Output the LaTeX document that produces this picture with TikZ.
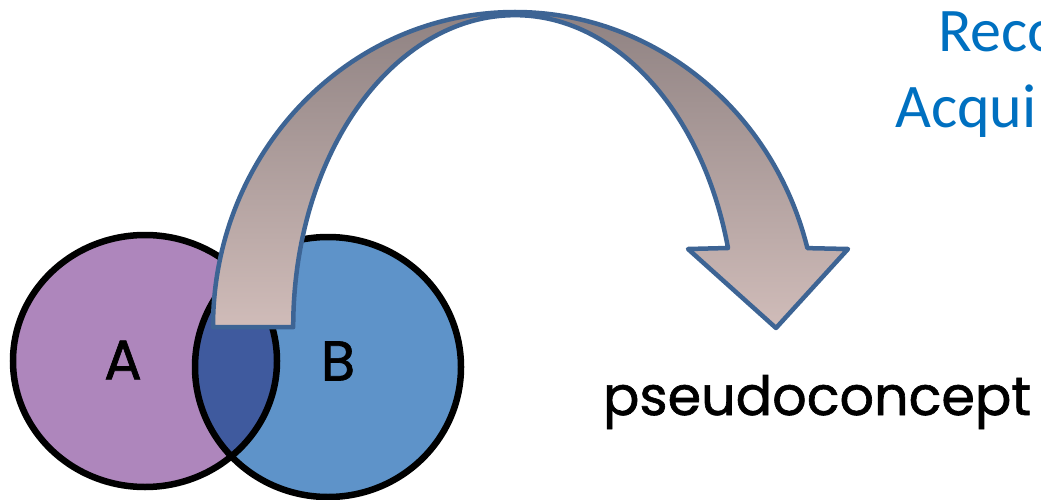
\documentclass[tikz,border=0pt]{standalone}
\usepackage{fontspec}
\newfontfamily\blfont{Carlito}
\newfontfamily\comicfont[FakeBold=1.2]{Poppins}
\definecolor{apurple}{HTML}{AE86BC}
\definecolor{bblue}{HTML}{5E93C9}
\definecolor{abdark}{HTML}{3F5A9E}
\definecolor{arrowedge}{HTML}{3D6494}
\definecolor{arrowtop}{HTML}{8F8282}
\definecolor{arrowbot}{HTML}{D0BCB9}
\definecolor{titleblue}{HTML}{0070C0}
\tikzset{
  venn/.style={draw=black, line width=6.5pt},
  bigarrow/.style={draw=arrowedge, line width=4.5pt, line join=round, top color=arrowtop, bottom color=arrowbot},
  setlabel/.style={font=\comicfont\fontsize{56}{60}\selectfont, inner sep=0pt},
  wordlabel/.style={font=\comicfont\fontsize{54}{60}\selectfont, inner sep=0pt, anchor=base},
  titletext/.style={font=\blfont\fontsize{62}{70}\selectfont, text=titleblue, inner sep=0pt, anchor=base west}
}
\begin{document}
\begin{tikzpicture}[x=1pt,y=1pt]
\useasboundingbox (0,0) rectangle (1041,499);
\clip (0,0) rectangle (1041,499);
% Venn diagram
\fill[apurple] (145,138) ellipse [x radius=132, y radius=126];
\fill[bblue] (328,132) ellipse [x radius=133, y radius=130];
\begin{scope}
  \clip (145,138) ellipse [x radius=132, y radius=126];
  \fill[abdark] (328,132) ellipse [x radius=133, y radius=130];
\end{scope}
\draw[venn] (145,138) ellipse [x radius=132, y radius=126];
\draw[venn] (328,132) ellipse [x radius=133, y radius=130];
\node[setlabel] (la) at (123,139) {A};
\node[setlabel] (lb) at (338,138) {B};
% curved arrow
\path[bigarrow] (213,172)
  arc[start angle=180, end angle=90, x radius=302, y radius=315]
  arc[start angle=90, end angle=14.5, x radius=302, y radius=315]
  -- (848,250) -- (776,171) -- (688,250) -- (728,251)
  arc[start angle=14.7, end angle=90, x radius=220, y radius=312]
  arc[start angle=90, end angle=180, x radius=222, y radius=312]
  -- cycle;
% texts
\node[wordlabel] (pc) at (817,84) {pseudoconcept};
\node[titletext] (t1) at (938,447) {Reco};
\node[titletext] (t2) at (895,371) {Acqui};
\end{tikzpicture}
\end{document}
